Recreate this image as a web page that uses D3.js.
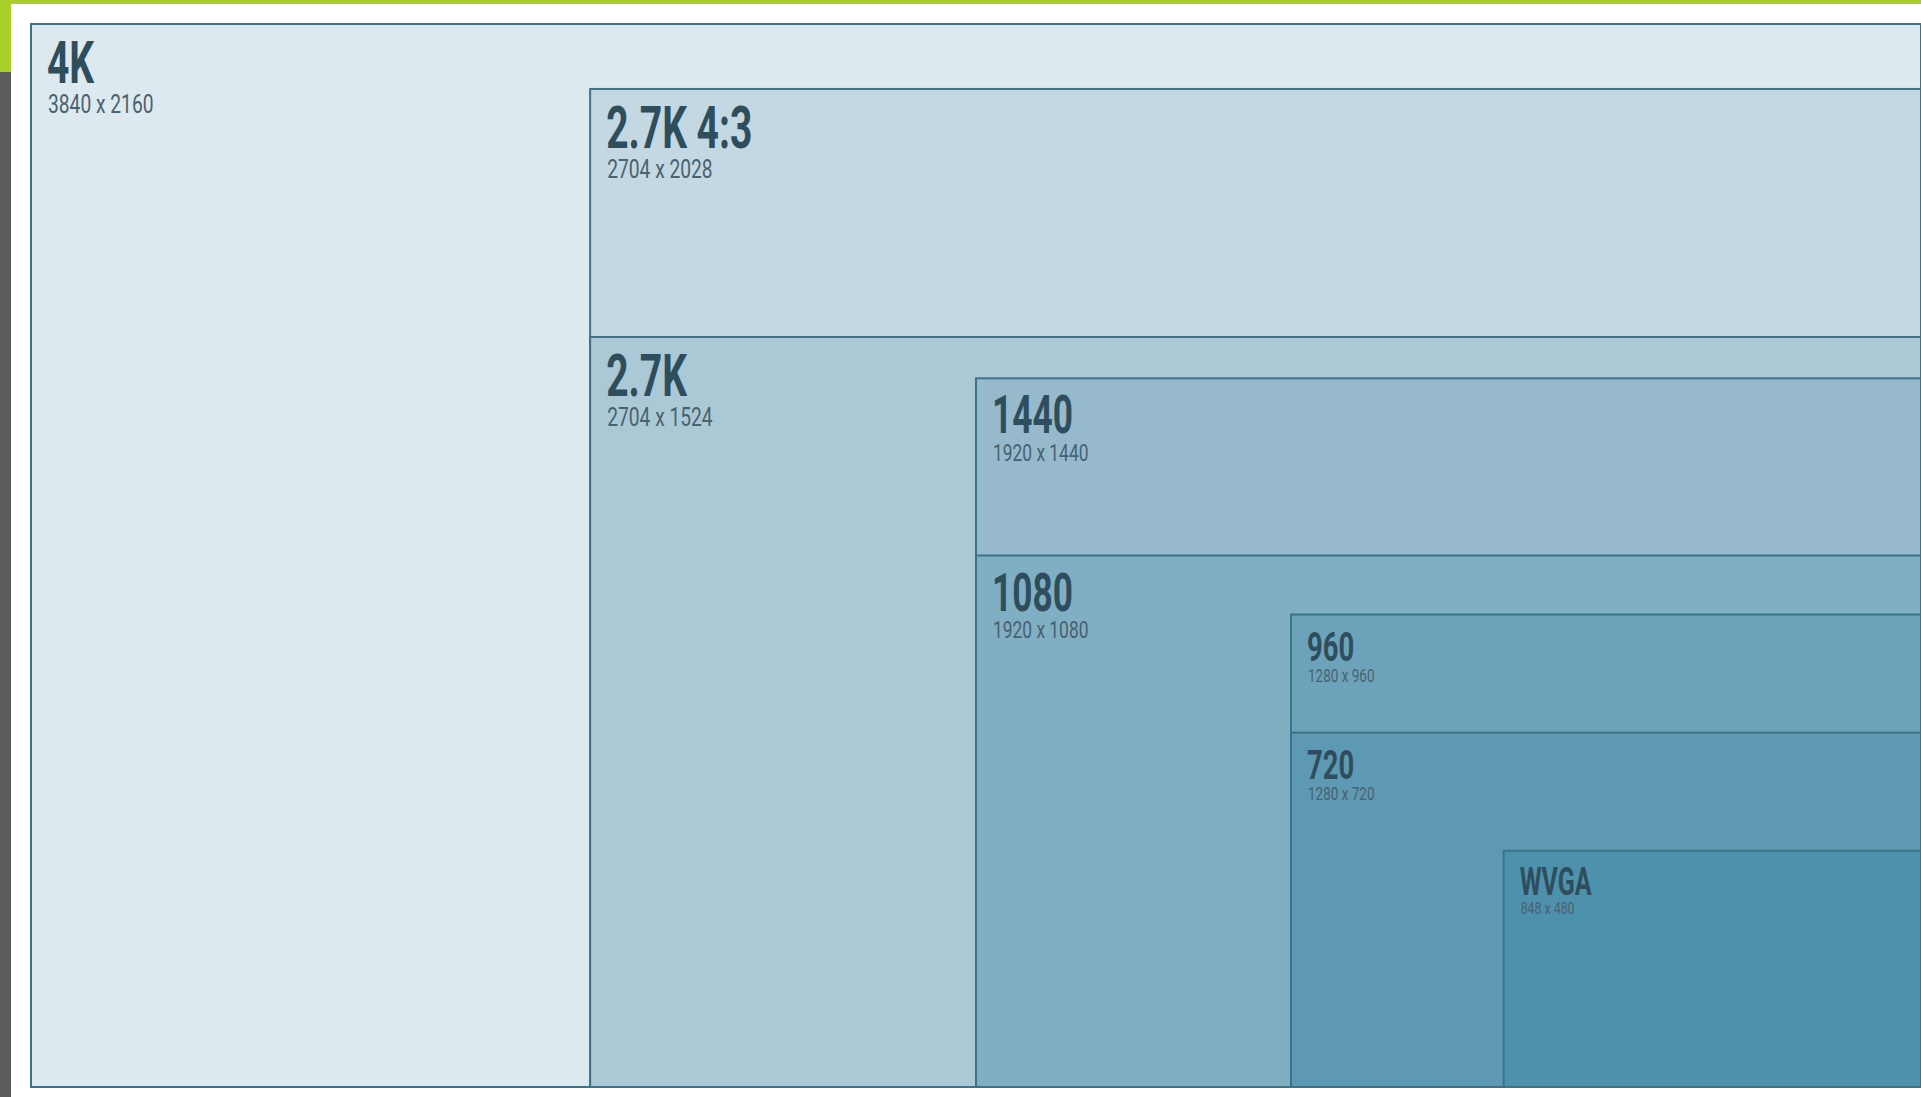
<!DOCTYPE html>
<html>
<head>
<meta charset="utf-8">
<script src="https://cdn.jsdelivr.net/npm/d3@7"></script>
<style>
  html, body { margin: 0; padding: 0; background: #fff; overflow: hidden; }
  text { font-family: Roboto, "Liberation Sans", sans-serif; }
</style>
</head>
<body>
<div id="chart"></div>
<script>
// resolution names and pixel sizes, biggest first
const names = ["4K", "2.7K 4:3", "2.7K", "1440", "1080", "960", "720", "WVGA"];
const resWidths = [3840, 2704, 2704, 1920, 1920, 1280, 1280, 848];
const resHeights = [2160, 2028, 1524, 1440, 1080, 960, 720, 480];

const palette = ["#dde9ef", "#c3d8e2", "#abc8d6", "#96bacc", "#80aec3", "#6da3ba", "#5e99b4", "#4e91ac"];

const W = 1921, H = 1097;
const margin = { top: 24, left: 31, right: 0, bottom: 10 };
const width = 1890, height = 1063;

const svg = d3.select("#chart").append("svg")
  .attr("width", W)
  .attr("height", H);

// frame decorations: green bar on top, green + gray strip on the left
svg.append("rect").attr("x", 0).attr("y", 0).attr("width", W).attr("height", 4).attr("fill", "#a8cf27");
svg.append("rect").attr("x", 0).attr("y", 0).attr("width", 11).attr("height", 72).attr("fill", "#a8cf27");
svg.append("rect").attr("x", 0).attr("y", 72).attr("width", 11).attr("height", H - 72).attr("fill", "#5b5b5b");

const g = svg.append("g")
  .attr("transform", `translate(${margin.left},${margin.top})`);

// same px-per-pixel for both directions, rects anchored at bottom right
const x = d3.scaleLinear().domain([0, 3840]).range([0, width]);
const y = d3.scaleLinear().domain([0, 2160]).range([height, 0]);

const data = names.map((n, i) => ({ name: n, w: resWidths[i], h: resHeights[i], color: palette[i] }));

// title cap height depends on box width
const capSize = d3.scaleLinear()
  .domain([417, 630, 945, 1330])
  .range([27, 29.5, 38, 42])
  .clamp(true);

const boxes = g.selectAll(".box")
  .data(data)
  .enter().append("g")
  .attr("class", "box")
  .attr("transform", d => `translate(${width - x(d.w)},${y(d.h)})`);

boxes.append("rect")
  .attr("width", d => x(d.w))
  .attr("height", d => height - y(d.h))
  .attr("fill", d => d.color)
  .attr("stroke", "#3d7389")
  .attr("stroke-width", 2);

boxes.each(function(d) {
  const box = d3.select(this);
  const cap = capSize(x(d.w));
  const titleBase = 17 + cap;
  const subCap = cap * 0.44;

  box.append("text")
    .attr("transform", `translate(16,${titleBase}) scale(0.66,1)`)
    .attr("font-size", cap / 0.711)
    .attr("font-weight", "bold")
    .attr("fill", "#2f4e5d")
    .text(d.name);

  box.append("text")
    .attr("transform", `translate(17,${titleBase + cap * 0.72}) scale(0.74,1)`)
    .attr("font-size", subCap / 0.711)
    .attr("fill", "#48626f")
    .text(`${d.w} x ${d.h}`);
});
</script>
</body>
</html>
